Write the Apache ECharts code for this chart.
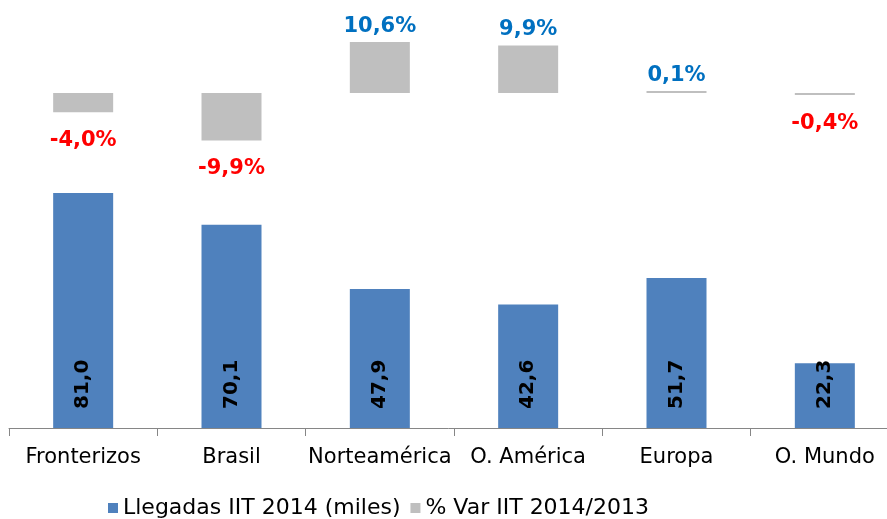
<!DOCTYPE html>
<html>
<head>
<meta charset="utf-8">
<style>
  html, body { margin: 0; padding: 0; background: #fff; }
  #chart { width: 887px; height: 519px; }
</style>
<script src="https://cdn.jsdelivr.net/npm/echarts@6/dist/echarts.min.js"></script>
</head>
<body>
<div id="chart"></div>
<script>
// datos del gráfico
var categories = ['Fronterizos', 'Brasil', 'Norteamérica', 'O. América', 'Europa', 'O. Mundo']
var llegadas = [81.0, 70.1, 47.9, 42.6, 51.7, 22.3]
var variacion = [-4.0, -9.9, 10.6, 9.9, 0.1, -0.4]
var seriesNames = ['Llegadas IIT 2014 (miles)', '% Var IIT 2014/2013']

function fmt(v) {
  return v.toFixed(1).replace('.', ',')
}

var chart = echarts.init(document.getElementById('chart'))

var varData = variacion.map(function(v) {
  var pos = v >= 0
  return {
    value: v,
    label: {
      position: pos ? 'top' : 'bottom',
      distance: pos ? 5 : 18,
      color: pos ? '#0070C0' : '#FF0000'
    }
  }
})

chart.setOption({
  animation: false,
  textStyle: { fontFamily: 'DejaVu Sans' },
  grid: [
    { left: 9, width: 890, top: 35.4, height: 115.2, outerBoundsMode: 'none', containLabel: false },
    { left: 9, width: 890, top: 138, height: 290, outerBoundsMode: 'none', containLabel: false }
  ],
  legend: {
    data: seriesNames,
    left: 103,
    top: 492,
    itemWidth: 10,
    itemHeight: 10,
    itemGap: 10,
    icon: 'rect',
    textStyle: { fontSize: 22, color: '#000', fontFamily: 'DejaVu Sans' }
  },
  xAxis: [
    {
      gridIndex: 0,
      type: 'category',
      data: categories,
      show: false
    },
    {
      gridIndex: 1,
      type: 'category',
      data: categories,
      axisLine: { lineStyle: { color: '#868686' } },
      axisTick: { show: true, length: 8, lineStyle: { color: '#868686' } },
      axisLabel: { fontSize: 21, color: '#000', margin: 19, interval: 0 }
    }
  ],
  yAxis: [
    { gridIndex: 0, type: 'value', min: -12, max: 12, show: false, splitLine: { show: false } },
    { gridIndex: 1, type: 'value', min: 0, max: 100, show: false, splitLine: { show: false } }
  ],
  series: [
    {
      name: seriesNames[0],
      type: 'bar',
      xAxisIndex: 1,
      yAxisIndex: 1,
      barWidth: 60,
      data: llegadas,
      itemStyle: { color: '#4F81BD' },
      label: {
        show: true,
        position: 'insideBottom',
        rotate: 90,
        align: 'left',
        verticalAlign: 'middle',
        distance: 19,
        color: '#000',
        fontWeight: 'bold',
        fontSize: 20,
        formatter: function(p) { return fmt(p.value) }
      }
    },
    {
      name: seriesNames[1],
      type: 'bar',
      xAxisIndex: 0,
      yAxisIndex: 0,
      barWidth: 60,
      barMinHeight: 2,
      data: varData,
      itemStyle: { color: '#BFBFBF' },
      label: {
        show: true,
        fontWeight: 'bold',
        fontSize: 21,
        formatter: function(p) { return fmt(p.value) + '%' }
      }
    }
  ]
})
</script>
</body>
</html>
